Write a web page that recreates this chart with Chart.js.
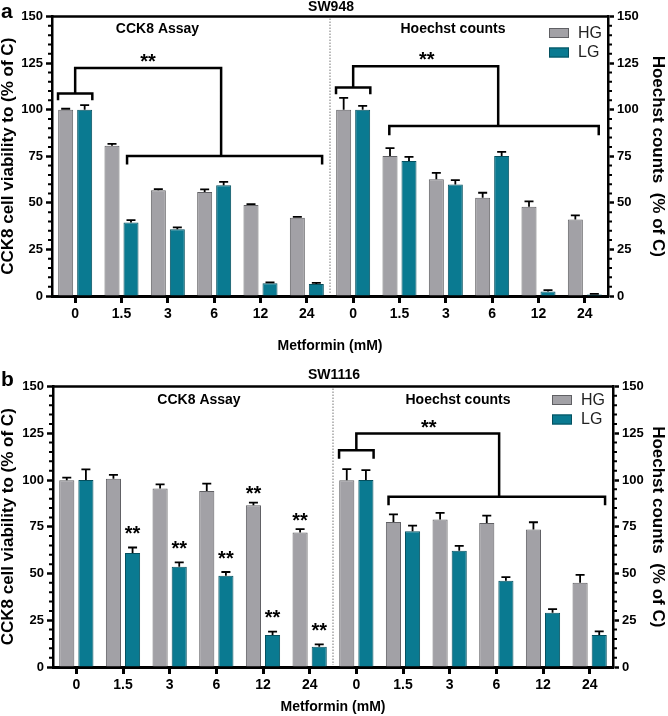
<!DOCTYPE html>
<html>
<head>
<meta charset="utf-8">
<script src="https://cdn.jsdelivr.net/npm/chart.js@4.4.1/dist/chart.umd.min.js"></script>
<style>
  html, body { margin: 0; padding: 0; background: #fff; }
  #wrap { position: relative; width: 668px; height: 716px; }
  .panel { position: absolute; left: 0; width: 668px; height: 358px; }
</style>
</head>
<body>
<div id="wrap">
  <div class="panel" style="top:0"><canvas id="chartA" width="668" height="358"></canvas></div>
  <div class="panel" style="top:358px"><canvas id="chartB" width="668" height="358"></canvas></div>
</div>
<script>
// metformin doses, CCK8 half then Hoechst half
const doses = ["0", "1.5", "3", "6", "12", "24"];
const labels = doses.concat(doses);

// SW948
const sw948HG = [100, 80.6, 56.7, 55.8, 48.8, 42.0, 100, 75.1, 62.7, 52.7, 47.9, 41.1];
const sw948HGerr = [0.5, 1.0, 0.7, 1.4, 0.5, 0.5, 6.3, 4.3, 3.4, 2.7, 2.9, 2.2];
const sw948LG = [100, 39.5, 35.8, 59.5, 6.8, 6.4, 100, 72.4, 59.9, 75.2, 2.4, 0.8];
const sw948LGerr = [2.4, 1.2, 1.0, 1.8, 0.5, 0.6, 2.0, 2.3, 2.3, 2.2, 0.8, 0.3];

// SW1116
const sw1116HG = [99.8, 100.7, 95.4, 94.1, 86.5, 71.9, 99.8, 77.6, 78.9, 77.0, 73.5, 45.0];
const sw1116HGerr = [1.5, 2.0, 2.3, 4.0, 1.4, 1.8, 6.0, 4.0, 3.5, 4.0, 3.9, 4.3];
const sw1116LG = [100, 61.0, 53.6, 48.8, 17.1, 10.8, 100, 72.6, 62.2, 46.1, 29.0, 17.1];
const sw1116LGerr = [5.7, 2.9, 2.4, 2.0, 1.8, 1.3, 5.3, 3.0, 2.6, 2.0, 2.0, 2.0];
// "**" over single bars (SW1116 CCK8)
const sw1116HGsig = [0, 0, 0, 0, 1, 1, 0, 0, 0, 0, 0, 0];
const sw1116LGsig = [0, 1, 1, 1, 1, 1, 0, 0, 0, 0, 0, 0];

// significance brackets, in category index / y units
const bracketsA = [
  { ctrl: [-0.37, 0.37], ctrlY: 108.7, ctrlEnd: 105, stemX: 0, topY: 122.4, dropX: 3.15,
    long: [1.12, 5.33], longY: 75.1, longEnd: 70.6, star: [1.57, 128.7] },
  { ctrl: [5.63, 6.37], ctrlY: 111.9, ctrlEnd: 108.3, stemX: 6, topY: 123.3, dropX: 9.13,
    long: [6.78, 11.30], longY: 91.2, longEnd: 86.3, star: [7.59, 129.8] }
];
const bracketsB = [
  { ctrl: [5.63, 6.37], ctrlY: 115.9, ctrlEnd: 111.4, stemX: 6, topY: 124.8, dropX: 9.06,
    long: [6.69, 11.33], longY: 91, longEnd: 86.5, star: [7.55, 131] }
];

const FONT = "'Liberation Sans', Arial, Helvetica, sans-serif";
const HG_FILL = "#a2a1a6", HG_EDGE = "#606064";
const LG_FILL = "#0a7a91", LG_EDGE = "#04505f";

function drawStar(ctx, x, y) {
  ctx.font = "bold 20px " + FONT;
  ctx.textAlign = "center";
  ctx.textBaseline = "alphabetic";
  ctx.fillText("**", x, y + 11.5);
}

function panelPlugin(p) {
  return {
    id: "panel_" + p.name,
    afterDatasetsDraw(chart) {
      const ctx = chart.ctx;
      const ys = chart.scales.y;
      ctx.save();
      ctx.strokeStyle = "#000";
      ctx.fillStyle = "#000";
      ctx.lineWidth = 1.8;
      chart.data.datasets.forEach((ds, di) => {
        const meta = chart.getDatasetMeta(di);
        meta.data.forEach((bar, i) => {
          const top = ys.getPixelForValue(ds.data[i] + ds.errors[i]);
          ctx.beginPath();
          ctx.moveTo(bar.x, bar.y);
          ctx.lineTo(bar.x, top);
          ctx.moveTo(bar.x - 4.5, top);
          ctx.lineTo(bar.x + 4.5, top);
          ctx.stroke();
          if (ds.sig && ds.sig[i]) drawStar(ctx, bar.x, top - ds.starGap);
        });
      });
      ctx.restore();
    },
    afterDraw(chart) {
      const ctx = chart.ctx;
      const xs = chart.scales.x, ys = chart.scales.y;
      const a = chart.chartArea;
      const X = v => xs.getPixelForValue(v);
      const Y = v => ys.getPixelForValue(v);
      ctx.save();
      // top frame line
      ctx.strokeStyle = "#000";
      ctx.lineWidth = 2.5;
      ctx.beginPath();
      ctx.moveTo(a.left - 1, a.top);
      ctx.lineTo(a.right + 1, a.top);
      ctx.stroke();
      // minor ticks
      ctx.lineWidth = 2;
      for (let v = 5; v < 150; v += 5) {
        if (v % 25 === 0) continue;
        const py = Y(v);
        ctx.beginPath();
        ctx.moveTo(a.left, py); ctx.lineTo(a.left - 4, py);
        ctx.moveTo(a.right, py); ctx.lineTo(a.right + 4, py);
        ctx.stroke();
      }
      // dotted divider
      ctx.strokeStyle = "#777";
      ctx.lineWidth = 1;
      ctx.setLineDash([1.5, 1.5]);
      ctx.beginPath();
      ctx.moveTo(X(5.5), a.top + 2);
      ctx.lineTo(X(5.5), a.bottom - 2);
      ctx.stroke();
      ctx.setLineDash([]);
      // brackets
      ctx.strokeStyle = "#000";
      ctx.fillStyle = "#000";
      ctx.lineWidth = 2.5;
      ctx.lineJoin = "miter";
      p.brackets.forEach(b => {
        ctx.beginPath();
        ctx.moveTo(X(b.ctrl[0]), Y(b.ctrlEnd));
        ctx.lineTo(X(b.ctrl[0]), Y(b.ctrlY));
        ctx.lineTo(X(b.ctrl[1]), Y(b.ctrlY));
        ctx.lineTo(X(b.ctrl[1]), Y(b.ctrlEnd));
        ctx.moveTo(X(b.stemX), Y(b.ctrlY));
        ctx.lineTo(X(b.stemX), Y(b.topY));
        ctx.lineTo(X(b.dropX), Y(b.topY));
        ctx.lineTo(X(b.dropX), Y(b.longY));
        ctx.moveTo(X(b.long[0]), Y(b.longEnd));
        ctx.lineTo(X(b.long[0]), Y(b.longY));
        ctx.lineTo(X(b.long[1]), Y(b.longY));
        ctx.lineTo(X(b.long[1]), Y(b.longEnd));
        ctx.stroke();
        drawStar(ctx, X(b.star[0]), Y(b.star[1]));
      });
      // texts
      ctx.textBaseline = "middle";
      ctx.textAlign = "left";
      ctx.font = "bold 21px " + FONT;
      ctx.fillText(p.letter, 1, p.letterY);
      ctx.textAlign = "center";
      ctx.font = "bold 14px " + FONT;
      ctx.fillText(p.title, p.titleX, p.titleY);
      ctx.fillText("CCK8 Assay", p.cckX, p.secY);
      ctx.fillText("Hoechst counts", p.hoeX, p.secY);
      // legend
      ctx.textAlign = "left";
      ctx.font = "16px " + FONT;
      ctx.lineWidth = 1;
      [["HG", HG_FILL, HG_EDGE], ["LG", LG_FILL, LG_EDGE]].forEach(([t, f, e], k) => {
        const yy = p.legY + k * 19.5;
        ctx.fillStyle = f;
        ctx.fillRect(p.legX, yy, 20, 10);
        ctx.strokeStyle = e;
        ctx.strokeRect(p.legX + 0.5, yy + 0.5, 19, 9);
        ctx.fillStyle = "#222";
        ctx.fillText(t, p.legX + 29, yy + 5.5);
      });
      ctx.restore();
    }
  };
}

function axisY(pos, title, width, titleSize, titlePad) {
  return {
    position: pos, min: 0, max: 150,
    ticks: { stepSize: 25, color: "#000", padding: 3, font: { family: FONT, size: 13, weight: "bold" } },
    grid: { drawOnChartArea: false, tickLength: 6, tickWidth: 2.5, tickColor: "#000" },
    border: { color: "#000", width: 2.5 },
    title: { display: true, text: title, color: "#000", padding: { top: titlePad, bottom: 0 },
             font: { family: FONT, size: titleSize, weight: "bold" } },
    afterFit: s => { s.width = width; }
  };
}

function buildChart(id, p) {
  return new Chart(document.getElementById(id), {
    type: "bar",
    data: {
      labels,
      datasets: [
        { label: "HG", data: p.hg, errors: p.hgErr, sig: p.hgSig, starGap: 14,
          backgroundColor: HG_FILL, borderColor: HG_EDGE, borderWidth: 1,
          categoryPercentage: 0.82, barPercentage: 0.79 },
        { label: "LG", data: p.lg, errors: p.lgErr, sig: p.lgSig, starGap: 19,
          backgroundColor: LG_FILL, borderColor: LG_EDGE, borderWidth: 1,
          categoryPercentage: 0.82, barPercentage: 0.79 }
      ]
    },
    options: {
      responsive: false,
      animation: false,
      layout: { padding: { top: p.padTop, left: 0, right: 0, bottom: 0 } },
      plugins: { legend: { display: false }, tooltip: { enabled: false } },
      scales: {
        x: {
          grid: { offset: false, drawOnChartArea: false, tickLength: 7, tickWidth: 3, tickColor: "#000" },
          border: { color: "#000", width: 3 },
          ticks: { color: "#000", padding: 3, autoSkip: false, maxRotation: 0,
                   font: { family: FONT, size: 14, weight: "bold" } },
          title: { display: true, text: "Metformin (mM)", color: "#000",
                   padding: { top: 0, bottom: p.xTitlePad }, font: { family: FONT, size: 14, weight: "bold" } },
          afterFit: s => { s.height = p.xAxisH; }
        },
        y: axisY("left", "CCK8 cell viability to (% of C)", p.leftW, 17, -2),
        y2: axisY("right", "Hoechst counts  (% of C)", p.rightW, 17, 0)
      }
    },
    plugins: [panelPlugin(p)]
  });
}

buildChart("chartA", {
  name: "a", hg: sw948HG, hgErr: sw948HGerr, lg: sw948LG, lgErr: sw948LGerr,
  brackets: bracketsA, padTop: 16.5, xAxisH: 62, xTitlePad: 3, leftW: 52, rightW: 60,
  letter: "a", letterY: 12, title: "SW948", titleX: 331, titleY: 7,
  cckX: 157.5, hoeX: 453, secY: 29, legX: 549, legY: 28
});
buildChart("chartB", {
  name: "b", hg: sw1116HG, hgErr: sw1116HGerr, lg: sw1116LG, lgErr: sw1116LGerr,
  hgSig: sw1116HGsig, lgSig: sw1116LGsig,
  brackets: bracketsB, padTop: 28.5, xAxisH: 49, xTitlePad: 0, leftW: 53, rightW: 55,
  letter: "b", letterY: 22, title: "SW1116", titleX: 334, titleY: 17,
  cckX: 199, hoeX: 458, secY: 42, legX: 552, legY: 37
});
</script>
</body>
</html>
